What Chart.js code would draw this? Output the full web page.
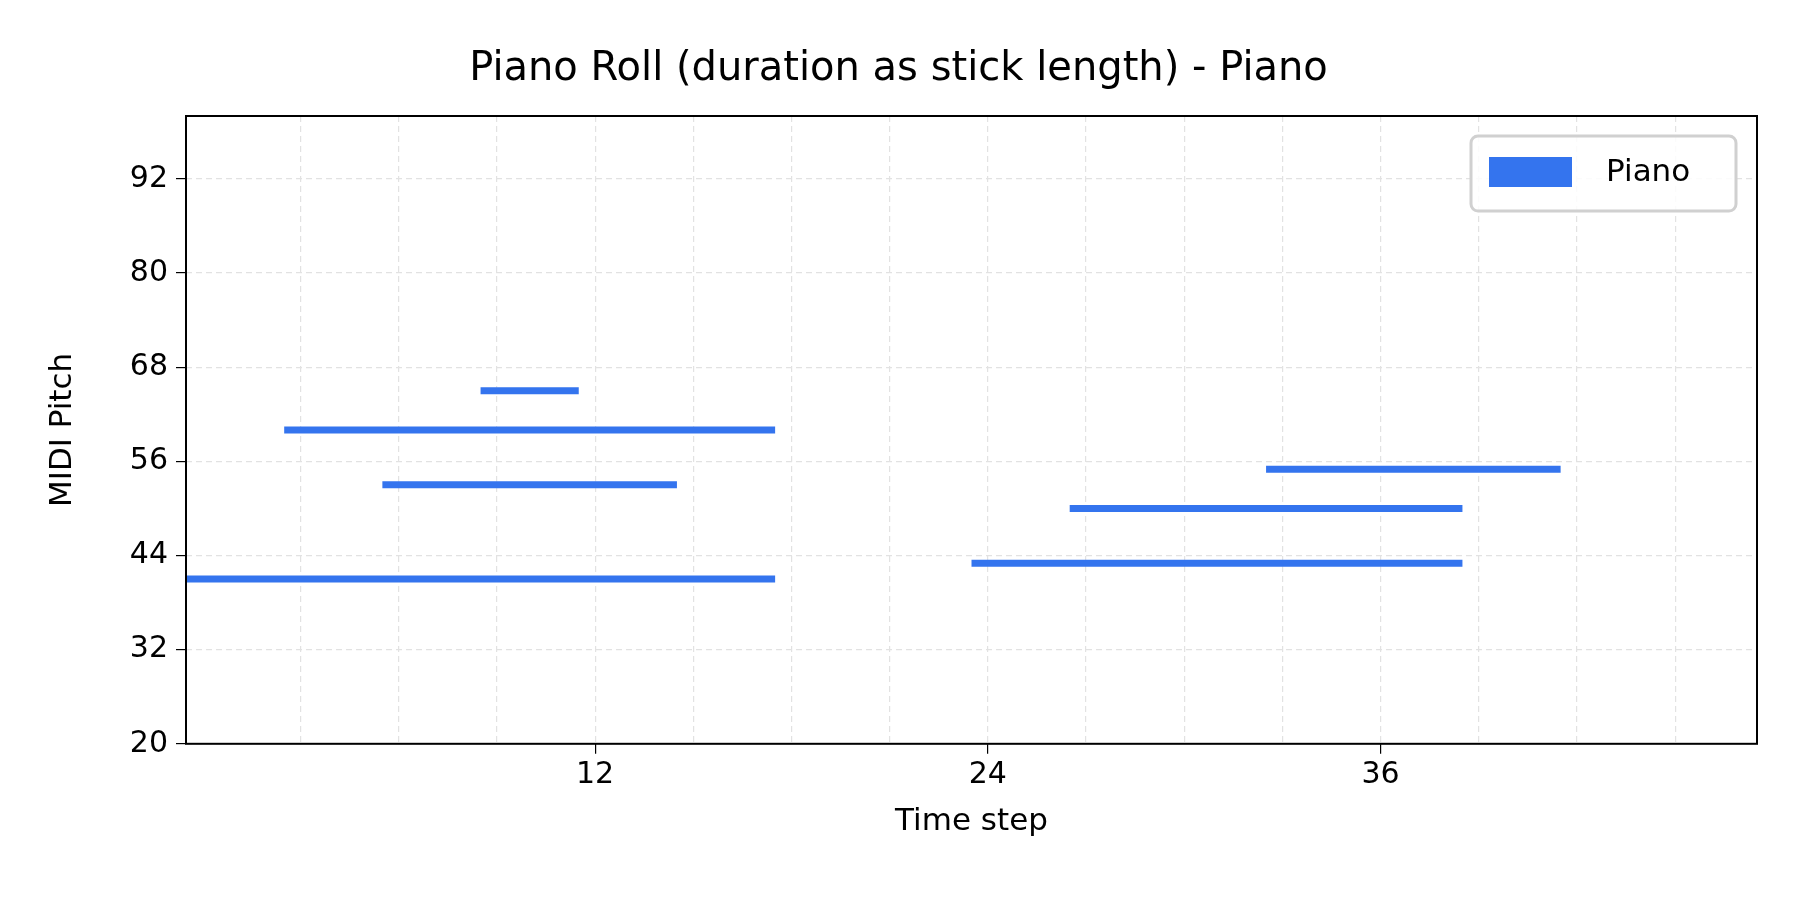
<!DOCTYPE html>
<html>
<head>
<script src="https://cdn.jsdelivr.net/npm/chart.js@4"></script>
<style>
body { margin: 0; background: #fff; }
#wrap { width: 1800px; height: 900px; }
</style>
</head>
<body>
<div id="wrap"><canvas id="grafico" width="1800" height="900"></canvas></div>
<script>
// notes: pitch, start, end (time steps)
const pitches = [41, 53, 60, 65, 43, 50, 55];
const starts = [-0.5, 5.5, 2.5, 8.5, 23.5, 26.5, 32.5];
const ends = [17.5, 14.5, 17.5, 11.5, 38.5, 38.5, 41.5];
const yTicks = [20, 32, 44, 56, 68, 80, 92];
const xLabels = [12, 24, 36];

var pontos = [];
for (var i = 0; i < pitches.length; i++) {
    pontos.push({ x: starts[i], y: pitches[i] });
    pontos.push({ x: ends[i], y: pitches[i] });
    pontos.push({ x: ends[i], y: null });
}

const azul = 'rgb(52, 116, 238)';
const fonte = 'DejaVu Sans';

const moldura = {
    id: 'moldura',
    afterDraw(chart) {
        var a = chart.chartArea, ctx = chart.ctx;
        ctx.save();
        ctx.strokeStyle = '#000';
        ctx.lineWidth = 2;
        ctx.strokeRect(a.left, a.top, a.right - a.left, a.bottom - a.top);
        // legend
        var lx = a.right - 286, ly = a.top + 20, lw = 265, lh = 75;
        ctx.strokeStyle = '#d0d0d0';
        ctx.lineWidth = 3;
        ctx.fillStyle = 'rgba(255,255,255,0.85)';
        ctx.beginPath();
        ctx.roundRect(lx, ly, lw, lh, 7);
        ctx.fill();
        ctx.stroke();
        ctx.fillStyle = azul;
        ctx.fillRect(lx + 18, ly + 21, 83, 30);
        ctx.fillStyle = '#000';
        ctx.font = '31px ' + fonte;
        ctx.textBaseline = 'middle';
        ctx.fillText('Piano', lx + 135, ly + 37);
        ctx.restore();
    }
};

new Chart(document.getElementById('grafico'), {
    type: 'line',
    data: {
        datasets: [{
            label: 'Piano',
            data: pontos,
            borderColor: azul,
            borderWidth: 7,
            borderCapStyle: 'butt',
            pointRadius: 0,
            spanGaps: false,
            fill: false
        }]
    },
    options: {
        responsive: false,
        animation: false,
        layout: { padding: { top: 10, right: 43, bottom: 55, left: 40 } },
        plugins: {
            legend: { display: false },
            tooltip: { enabled: false },
            title: {
                display: true,
                text: 'Piano Roll (duration as stick length) - Piano',
                color: '#000',
                font: { family: fonte, size: 40, weight: 'normal' },
                padding: { top: 36, bottom: 22 }
            }
        },
        scales: {
            x: {
                type: 'linear',
                min: -0.5,
                max: 47.5,
                afterBuildTicks(axis) {
                    var t = [];
                    for (var v = 3; v <= 45; v += 3) t.push({ value: v });
                    axis.ticks = t;
                },
                ticks: {
                    color: '#000',
                    font: { family: fonte, size: 30 },
                    maxRotation: 0,
                    autoSkip: false,
                    callback: function (v) { return xLabels.indexOf(v) >= 0 ? String(v) : ''; }
                },
                grid: {
                    color: '#e2e2e2',
                    lineWidth: 1.2,
                    tickLength: 10,
                    tickColor: function (c) { return xLabels.indexOf(c.tick.value) >= 0 ? '#000' : 'rgba(0,0,0,0)'; }
                },
                border: { dash: [6, 4], display: false },
                title: {
                    display: true,
                    text: 'Time step',
                    color: '#000',
                    font: { family: fonte, size: 31 },
                    padding: { top: 8 }
                }
            },
            y: {
                type: 'linear',
                min: 20,
                max: 100,
                afterBuildTicks(axis) {
                    axis.ticks = yTicks.map(function (v) { return { value: v }; });
                },
                afterFit(axis) { axis.width = 146; },
                ticks: {
                    color: '#000',
                    font: { family: fonte, size: 30 },
                    padding: 8
                },
                grid: {
                    color: '#e2e2e2',
                    lineWidth: 1.2,
                    tickLength: 10,
                    tickColor: '#000'
                },
                border: { dash: [6, 4], display: false },
                title: {
                    display: true,
                    text: 'MIDI Pitch',
                    color: '#000',
                    font: { family: fonte, size: 31 },
                    padding: { bottom: 4 }
                }
            }
        }
    },
    plugins: [moldura]
});
</script>
</body>
</html>
